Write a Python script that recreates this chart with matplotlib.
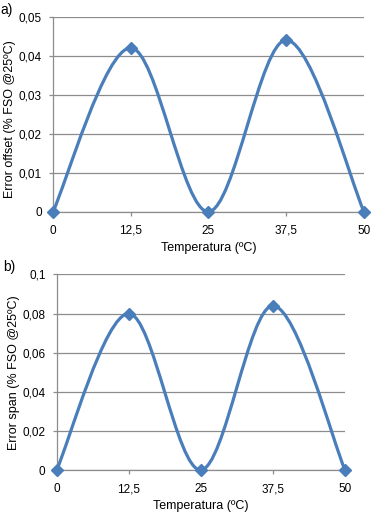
import matplotlib.pyplot as plt
from matplotlib.path import Path
from matplotlib.patches import PathPatch
from matplotlib.ticker import FuncFormatter

# datos
temperatura = [0, 12.5, 25, 37.5, 50]
error_offset = [0, 0.042, 0, 0.044, 0]
error_span = [0, 0.080, 0, 0.084, 0]

ticks_x = [0, 12.5, 25, 37.5, 50]
ticks_offset = [0, 0.01, 0.02, 0.03, 0.04, 0.05]
ticks_span = [0, 0.02, 0.04, 0.06, 0.08, 0.1]

AZUL = '#4a7ebb'
GRIS = '#8c8c8c'

plt.rcParams['font.family'] = ['Liberation Sans', 'DejaVu Sans']


def coma(v, pos):
    # formato con coma decimal, como en Excel
    s = ('%.2f' % v).rstrip('0').rstrip('.')
    return s.replace('.', ',')


def curva_suave(xs, ys):
    """
    Linea suavizada tipo Excel (Catmull-Rom convertido a Bezier).
    """
    pts = list(zip(xs, ys))
    verts = [pts[0]]
    codes = [Path.MOVETO]
    n = len(pts)
    for i in range(n - 1):
        p0 = pts[i - 1] if i > 0 else pts[i]
        p1 = pts[i]
        p2 = pts[i + 1]
        p3 = pts[i + 2] if i + 2 < n else pts[i + 1]
        c1 = (p1[0] + (p2[0] - p0[0]) / 6, p1[1] + (p2[1] - p0[1]) / 6)
        c2 = (p2[0] - (p3[0] - p1[0]) / 6, p2[1] - (p3[1] - p1[1]) / 6)
        verts += [c1, c2, p2]
        codes += [Path.CURVE4] * 3
    return Path(verts, codes)


def graficar(ax, ys, yticks, ylabel, letra, ylabel_x, ylabel_y, letra_x):
    ax.add_patch(PathPatch(curva_suave(temperatura, ys), fill=False,
                           edgecolor=AZUL, lw=2.3, capstyle='round', zorder=3))
    ax.plot(temperatura, ys, 'D', color=AZUL, markersize=6.2, zorder=4,
            clip_on=False)
    ax.set_xlim(0, 50)
    ax.set_ylim(yticks[0], yticks[-1])
    ax.set_xticks(ticks_x)
    ax.set_yticks(yticks)
    ax.xaxis.set_major_formatter(FuncFormatter(coma))
    ax.yaxis.set_major_formatter(FuncFormatter(coma))
    ax.grid(axis='y', color=GRIS, lw=0.9)
    ax.set_axisbelow(True)
    for lado in ['top', 'right']:
        ax.spines[lado].set_visible(False)
    for lado in ['left', 'bottom']:
        ax.spines[lado].set_color(GRIS)
        ax.spines[lado].set_linewidth(0.9)
    ax.tick_params(colors=GRIS, labelcolor='black', labelsize=8.5,
                   length=3, width=0.9, pad=5)
    ax.tick_params(axis='x', pad=6.5)
    ax.set_xlabel('Temperatura (ºC)', fontsize=9, labelpad=3.5)
    ax.set_ylabel(ylabel, fontsize=9)
    ax.yaxis.set_label_coords(ylabel_x, ylabel_y)
    ax.text(letra_x, 1.0, letra, transform=ax.transAxes, fontsize=10,
            ha='left', va='bottom')


fig = plt.figure(figsize=(3.75, 5.12), dpi=100)
ax1 = fig.add_axes([0.1413, 0.5865, 0.8293, 0.381])
ax2 = fig.add_axes([0.151, 0.082, 0.769, 0.382])

graficar(ax1, error_offset, ticks_offset, 'Error offset (% FSO @25ºC)', 'a)', -0.12, 0.475, -0.17)
graficar(ax2, error_span, ticks_span, 'Error span (% FSO @25ºC)', 'b)', -0.128, 0.5, -0.185)

plt.savefig('out.png', dpi=100)
plt.close()
